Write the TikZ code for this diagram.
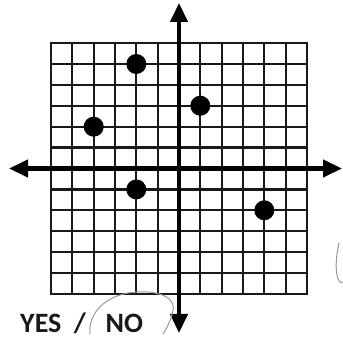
\documentclass[tikz,border=0pt]{standalone}
\usepackage{fontspec}
\setmainfont{Carlito}
\usetikzlibrary{arrows.meta}
\tikzset{
  gridline/.style={line width=2.3pt, black!90},
  axisline/.style={line width=4.5pt, black, {Triangle[length=19pt,width=17pt]}-{Triangle[length=19pt,width=17pt]}},
  dot/.style={circle, fill=black, inner sep=0pt, minimum size=20pt},
  pencil/.style={line width=1pt, gray!80, line cap=round},
  answer/.style={font=\fontsize{28}{30}\selectfont\bfseries, text=black!90, inner sep=0pt}
}
\begin{document}
\begin{tikzpicture}[x=1pt,y=-1pt]
\useasboundingbox (0,0) rectangle (343,339);
\fill[white] (0,0) rectangle (343,339);
% grid: 12 x 12 cells, from (51,43) to (307,294)
\foreach \k in {0,...,12} {
  \draw[gridline] ({51+21.333*\k},43) -- ({51+21.333*\k},294);
  \draw[gridline] (51,{43+20.917*\k}) -- (307,{43+20.917*\k});
}
\draw[gridline, line width=2.8pt, line cap=rect] (51,43) rectangle (307,294);
\coordinate (top) at (179,3);
\coordinate (bottom) at (179,333);
\coordinate (left) at (9,168.5);
\coordinate (right) at (342,168.5);
\draw[axisline] (bottom) -- (top);
\draw[axisline] (left) -- (right);
\node[dot] (p1) at (136.3,64) {};
\node[dot] (p2) at (200.3,105.7) {};
\node[dot] (p3) at (93.7,126.7) {};
\node[dot] (p4) at (136.3,189.4) {};
\node[dot] (p5) at (264.3,210.3) {};
\node[answer, anchor=base west] (yesno) at (20,333) {YES\hspace{0.45em}/\hspace{0.7em}NO};
\draw[pencil] (90,334) .. controls (88,318) and (100,298) .. (128,293)
  .. controls (152,289) and (176,295) .. (173,310)
  .. controls (171,320) and (167,328) .. (163,334);
\draw[pencil] (339,243) .. controls (336,256) and (335,270) .. (338,279)
  .. controls (340,283) and (342,283) .. (343,282);
\end{tikzpicture}
\end{document}
